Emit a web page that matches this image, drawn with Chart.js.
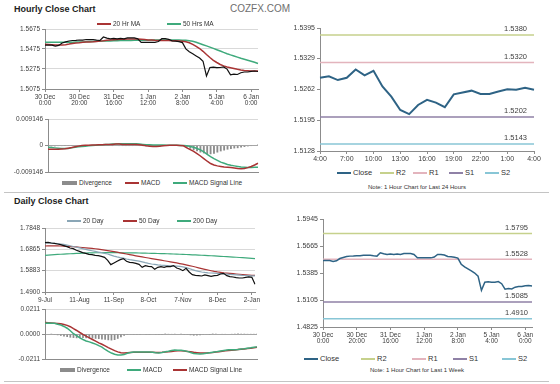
<!DOCTYPE html>
<html lang="en">
<head>
  <meta charset="UTF-8" />
  <title>Hourly / Daily Close Chart</title>
  <script src="https://cdn.jsdelivr.net/npm/chart.js"></script>
  <style>
    body { margin: 0; background: #fff; font-family: "Liberation Sans", Arial, sans-serif; color: #333; }
    #page { position: relative; width: 560px; height: 384px; overflow: hidden; }
    #page canvas, .txt, .sw, .rule { position: absolute; }
    .txt { white-space: nowrap; line-height: 10px; height: 10px; }
    .rule { left: 4px; width: 545px; height: 1px; background: #c4c4c4; }
  </style>
</head>
<body>
<div id="page">
  <div class="txt" style="left:14px; top:4px; font-size:9px; font-weight:bold; color:#222;">Hourly Close Chart</div>
  <div class="txt" style="left:230px; top:4px; font-size:10px; color:#6e6e6e;">COZFX.COM</div>
  <div class="txt" style="left:14px; top:196px; font-size:9px; font-weight:bold; color:#222;">Daily Close Chart</div>
  <div class="txt" style="left:317px; width:200px; text-align:center; top:182px; font-size:6px;">Note: 1 Hour Chart for Last 24 Hours</div>
  <div class="txt" style="left:317px; width:200px; text-align:center; top:365px; font-size:6px;">Note: 1 Hour Chart for Last 1 Week</div>
  <div class="rule" style="top:192px;"></div>
  <div class="rule" style="top:381px;"></div>
</div>

<script>
  // ---- hourly, last week (one point every 2 hours) ----
  const hourTicks = [['30 Dec', '0:00'], ['30 Dec', '20:00'], ['31 Dec', '16:00'], ['1 Jan', '12:00'],
                     ['2 Jan', '8:00'], ['5 Jan', '4:00'], ['6 Jan', '0:00']];
  const hourClose = [1.5514, 1.5514, 1.5514, 1.5504, 1.5511, 1.5535, 1.5546, 1.5555, 1.5560, 1.5562,
                     1.5565, 1.5564, 1.5570, 1.5568, 1.5568, 1.5563, 1.5560, 1.5595, 1.5584, 1.5577,
                     1.5581, 1.5577, 1.5581, 1.5577, 1.5586, 1.5586, 1.5586, 1.5577, 1.5542, 1.5542,
                     1.5542, 1.5542, 1.5542, 1.5550, 1.5578, 1.5578, 1.5572, 1.5556, 1.5553, 1.5549,
                     1.5539, 1.5476, 1.5448, 1.5427, 1.5406, 1.5385, 1.5353, 1.5205, 1.5290, 1.5293,
                     1.5288, 1.5290, 1.5296, 1.5274, 1.5217, 1.5224, 1.5220, 1.5238, 1.5245, 1.5245,
                     1.5252, 1.5255, 1.5250];
  const hourMA20 = [1.5522, 1.5520, 1.5518, 1.5516, 1.5515, 1.5516, 1.5518, 1.5524, 1.5531, 1.5535,
                    1.5538, 1.5542, 1.5544, 1.5546, 1.5548, 1.5551, 1.5555, 1.5558, 1.5562, 1.5565,
                    1.5568, 1.5570, 1.5572, 1.5573, 1.5574, 1.5575, 1.5575, 1.5574, 1.5572, 1.5569,
                    1.5566, 1.5564, 1.5562, 1.5561, 1.5561, 1.5560, 1.5559, 1.5558, 1.5557, 1.5556,
                    1.5552, 1.5547, 1.5538, 1.5522, 1.5502, 1.5480, 1.5452, 1.5420, 1.5390, 1.5362,
                    1.5340, 1.5320, 1.5306, 1.5296, 1.5288, 1.5280, 1.5272, 1.5265, 1.5260, 1.5258,
                    1.5256, 1.5255, 1.5255];
  const hourMA50 = [1.5542, 1.5542, 1.5542, 1.5542, 1.5542, 1.5543, 1.5543, 1.5543, 1.5543, 1.5544,
                    1.5545, 1.5546, 1.5548, 1.5549, 1.5550, 1.5552, 1.5553, 1.5554, 1.5555, 1.5556,
                    1.5557, 1.5558, 1.5559, 1.5560, 1.5561, 1.5561, 1.5562, 1.5562, 1.5562, 1.5563,
                    1.5563, 1.5564, 1.5564, 1.5564, 1.5565, 1.5565, 1.5565, 1.5565, 1.5565, 1.5564,
                    1.5563, 1.5562, 1.5558, 1.5553, 1.5542, 1.5530, 1.5518, 1.5506, 1.5494, 1.5481,
                    1.5468, 1.5455, 1.5441, 1.5428, 1.5416, 1.5405, 1.5394, 1.5382, 1.5372, 1.5362,
                    1.5352, 1.5342, 1.5330];
  const hourMacd = [-0.0013, -0.0013, -0.0013, -0.0013, -0.0012, -0.0011, -0.0009, -0.0007, -0.0004, -0.0002,
                    0.0000, 0.0001, 0.0001, 0.0002, 0.0002, 0.0003, 0.0003, 0.0004, 0.0004, 0.0004,
                    0.0005, 0.0005, 0.0004, 0.0004, 0.0004, 0.0004, 0.0004, 0.0003, 0.0001, -0.0001,
                    -0.0002, -0.0003, -0.0003, -0.0002, -0.0001, 0.0000, 0.0001, 0.0001, 0.0001, 0.0000,
                    -0.0001, -0.0008, -0.0014, -0.0020, -0.0028, -0.0036, -0.0045, -0.0054, -0.0062, -0.0067,
                    -0.0070, -0.0072, -0.0074, -0.0075, -0.0076, -0.0077, -0.0079, -0.0080, -0.0079, -0.0076,
                    -0.0072, -0.0067, -0.0061];
  const hourSignal = [-0.0006, -0.0007, -0.0008, -0.0009, -0.0010, -0.0010, -0.0010, -0.0008, -0.0006, -0.0004,
                      -0.0003, -0.0002, -0.0001, 0.0000, 0.0001, 0.0002, 0.0003, 0.0004, 0.0004, 0.0005,
                      0.0005, 0.0006, 0.0006, 0.0006, 0.0006, 0.0006, 0.0006, 0.0005, 0.0004, 0.0003,
                      0.0003, 0.0002, 0.0002, 0.0002, 0.0002, 0.0001, 0.0001, 0.0001, 0.0001, 0.0000,
                      0.0000, -0.0001, -0.0003, -0.0006, -0.0010, -0.0015, -0.0022, -0.0030, -0.0038, -0.0045,
                      -0.0051, -0.0057, -0.0061, -0.0065, -0.0068, -0.0070, -0.0072, -0.0074, -0.0075, -0.0076,
                      -0.0076, -0.0075, -0.0075];
  const hourDiverg = [-0.0003, -0.0003, -0.0003, -0.0002, -0.0002, -0.0001, 0.0001, 0.0001, 0.0002, 0.0002,
                      0.0002, 0.0002, 0.0002, 0.0002, 0.0001, 0.0001, 0.0000, 0.0000, 0.0000, -0.0001,
                      0.0000, -0.0001, -0.0001, -0.0001, -0.0001, -0.0001, -0.0001, -0.0001, -0.0002, -0.0003,
                      -0.0004, -0.0004, -0.0004, -0.0003, -0.0002, -0.0001, 0.0000, 0.0000, 0.0000, 0.0000,
                      -0.0001, -0.0007, -0.0011, -0.0016, -0.0020, -0.0024, -0.0027, -0.0029, -0.0030, -0.0028,
                      -0.0024, -0.0020, -0.0017, -0.0014, -0.0012, -0.0010, -0.0009, -0.0007, -0.0005, -0.0003,
                      -0.0001, 0.0002, 0.0004];

  // ---- hourly, last 24 hours ----
  const lastDayHours = ['4:00', '5:00', '6:00', '7:00', '8:00', '9:00', '10:00', '11:00', '12:00', '13:00',
                        '14:00', '15:00', '16:00', '17:00', '18:00', '19:00', '20:00', '21:00', '22:00', '23:00',
                        '0:00', '1:00', '2:00', '3:00', '4:00'];
  const lastDayClose = [1.5287, 1.5290, 1.5282, 1.5287, 1.5305, 1.5292, 1.5302, 1.5268, 1.5246, 1.5217,
                        1.5208, 1.5228, 1.5239, 1.5233, 1.5223, 1.5251, 1.5255, 1.5259, 1.5252, 1.5252,
                        1.5257, 1.5262, 1.5261, 1.5265, 1.5261];
  const levelNames = ['R2', 'R1', 'S1', 'S2'];
  const lastDayLevels = [1.5380, 1.5320, 1.5202, 1.5143];
  const weekLevels = [1.5795, 1.5528, 1.5085, 1.4910];

  // ---- daily (one point every 2 trading days) ----
  const dayTicks = ['9-Jul', '11-Aug', '11-Sep', '8-Oct', '7-Nov', '8-Dec', '2-Jan'];
  const dayClose = [1.7173, 1.7188, 1.7157, 1.7142, 1.7111, 1.7081, 1.7034, 1.6988, 1.6927, 1.6896,
                    1.6820, 1.6773, 1.6712, 1.6681, 1.6635, 1.6620, 1.6589, 1.6574, 1.6543, 1.6497,
                    1.6359, 1.6160, 1.6236, 1.6313, 1.6390, 1.6436, 1.6313, 1.6267, 1.6252, 1.6221,
                    1.6175, 1.6037, 1.6114, 1.6083, 1.6067, 1.5945, 1.6037, 1.6067, 1.6037, 1.6083,
                    1.6067, 1.6114, 1.6006, 1.5960, 1.5883, 1.5991, 1.5822, 1.5699, 1.5668, 1.5653,
                    1.5637, 1.5684, 1.5653, 1.5622, 1.5653, 1.5668, 1.5730, 1.5760, 1.5653, 1.5607,
                    1.5592, 1.5561, 1.5546, 1.5546, 1.5576, 1.5592, 1.5576, 1.5254];
  const dayMA20 = [1.7173, 1.7160, 1.7150, 1.7140, 1.7125, 1.7110, 1.7090, 1.7060, 1.7030, 1.6995,
                   1.6965, 1.6930, 1.6895, 1.6860, 1.6830, 1.6800, 1.6770, 1.6740, 1.6710, 1.6680,
                   1.6650, 1.6600, 1.6550, 1.6515, 1.6485, 1.6460, 1.6420, 1.6390, 1.6370, 1.6345,
                   1.6320, 1.6290, 1.6250, 1.6215, 1.6190, 1.6170, 1.6150, 1.6135, 1.6125, 1.6115,
                   1.6110, 1.6105, 1.6095, 1.6080, 1.6060, 1.6020, 1.5980, 1.5930, 1.5885, 1.5850,
                   1.5820, 1.5800, 1.5785, 1.5775, 1.5765, 1.5755, 1.5745, 1.5735, 1.5725, 1.5712,
                   1.5700, 1.5690, 1.5680, 1.5668, 1.5660, 1.5652, 1.5645, 1.5640];
  const dayMA50 = [1.7019, 1.7022, 1.7025, 1.7025, 1.7022, 1.7018, 1.7012, 1.7005, 1.6995, 1.6985,
                   1.6975, 1.6962, 1.6950, 1.6937, 1.6925, 1.6910, 1.6893, 1.6875, 1.6855, 1.6833,
                   1.6810, 1.6785, 1.6760, 1.6733, 1.6705, 1.6678, 1.6650, 1.6622, 1.6595, 1.6568,
                   1.6540, 1.6515, 1.6490, 1.6465, 1.6440, 1.6415, 1.6390, 1.6365, 1.6340, 1.6315,
                   1.6290, 1.6265, 1.6240, 1.6210, 1.6180, 1.6150, 1.6118, 1.6085, 1.6050, 1.6015,
                   1.5980, 1.5945, 1.5912, 1.5880, 1.5850, 1.5825, 1.5805, 1.5785, 1.5770, 1.5755,
                   1.5742, 1.5730, 1.5718, 1.5705, 1.5692, 1.5680, 1.5670, 1.5662];
  const dayMA200 = [1.6589, 1.6600, 1.6610, 1.6620, 1.6630, 1.6638, 1.6646, 1.6654, 1.6662, 1.6670,
                    1.6677, 1.6683, 1.6689, 1.6695, 1.6700, 1.6704, 1.6707, 1.6709, 1.6711, 1.6712,
                    1.6712, 1.6712, 1.6711, 1.6710, 1.6709, 1.6708, 1.6706, 1.6704, 1.6702, 1.6699,
                    1.6696, 1.6693, 1.6690, 1.6686, 1.6682, 1.6678, 1.6674, 1.6670, 1.6666, 1.6661,
                    1.6656, 1.6651, 1.6646, 1.6640, 1.6634, 1.6628, 1.6621, 1.6614, 1.6607, 1.6600,
                    1.6593, 1.6585, 1.6577, 1.6569, 1.6561, 1.6553, 1.6545, 1.6536, 1.6527, 1.6518,
                    1.6509, 1.6500, 1.6490, 1.6480, 1.6470, 1.6460, 1.6450, 1.6440];
  const dayMacd = [0.0092, 0.0093, 0.0092, 0.0090, 0.0083, 0.0076, 0.0064, 0.0049, 0.0028, 0.0003,
                   -0.0014, -0.0032, -0.0046, -0.0058, -0.0066, -0.0075, -0.0085, -0.0098, -0.0110, -0.0130,
                   -0.0146, -0.0160, -0.0170, -0.0177, -0.0177, -0.0173, -0.0162, -0.0155, -0.0152, -0.0151,
                   -0.0151, -0.0152, -0.0151, -0.0151, -0.0153, -0.0157, -0.0159, -0.0156, -0.0150, -0.0145,
                   -0.0139, -0.0135, -0.0136, -0.0137, -0.0141, -0.0146, -0.0155, -0.0163, -0.0166, -0.0168,
                   -0.0166, -0.0162, -0.0158, -0.0154, -0.0150, -0.0144, -0.0140, -0.0136, -0.0133, -0.0133,
                   -0.0133, -0.0130, -0.0126, -0.0123, -0.0119, -0.0116, -0.0112, -0.0108];
  const daySignal = [0.0097, 0.0095, 0.0093, 0.0091, 0.0089, 0.0086, 0.0080, 0.0073, 0.0062, 0.0045,
                     0.0030, 0.0013, -0.0003, -0.0018, -0.0032, -0.0046, -0.0060, -0.0074, -0.0086, -0.0100,
                     -0.0114, -0.0127, -0.0140, -0.0150, -0.0157, -0.0159, -0.0157, -0.0155, -0.0154, -0.0154,
                     -0.0154, -0.0154, -0.0154, -0.0154, -0.0154, -0.0155, -0.0155, -0.0154, -0.0152, -0.0149,
                     -0.0146, -0.0143, -0.0141, -0.0141, -0.0143, -0.0146, -0.0150, -0.0154, -0.0157, -0.0160,
                     -0.0160, -0.0159, -0.0157, -0.0155, -0.0152, -0.0149, -0.0145, -0.0141, -0.0138, -0.0136,
                     -0.0134, -0.0131, -0.0128, -0.0125, -0.0122, -0.0119, -0.0115, -0.0111];
  const dayDiverg = [0.0005, 0.0004, 0.0002, -0.0002, -0.0010, -0.0015, -0.0020, -0.0025, -0.0030, -0.0033,
                     -0.0035, -0.0034, -0.0033, -0.0035, -0.0036, -0.0038, -0.0040, -0.0042, -0.0045, -0.0048,
                     -0.0052, -0.0054, -0.0050, -0.0040, -0.0028, -0.0015, -0.0007, -0.0003, -0.0002, -0.0002,
                     -0.0002, -0.0003, -0.0002, -0.0002, -0.0004, -0.0006, -0.0005, -0.0002, 0.0001, 0.0003,
                     0.0005, 0.0006, 0.0004, 0.0002, -0.0002, -0.0006, -0.0010, -0.0013, -0.0012, -0.0010,
                     -0.0006, -0.0003, -0.0001, 0.0001, 0.0002, 0.0004, 0.0005, 0.0005, 0.0004, 0.0003,
                     0.0002, 0.0001, 0.0002, 0.0002, 0.0003, 0.0003, 0.0003, 0.0003];

  // ---- y tick values ----
  const yTicksHour = [1.5075, 1.5275, 1.5475, 1.5675];
  const yTicksHourMacd = [-0.009146, 0, 0.009146];
  const yTicksLastDay = [1.5128, 1.5195, 1.5262, 1.5329, 1.5395];
  const yTicksDay = [1.4900, 1.5883, 1.6865, 1.7848];
  const yTicksDayMacd = [-0.0211, 0, 0.0211];
  const yTicksWeek = [1.4825, 1.5105, 1.5385, 1.5665, 1.5945];

  // ---- colours ----
  const C_BLACK = '#111111', C_RED = '#a93434', C_GREEN = '#3faa7c', C_GREYBLUE = '#8aa6b6';
  const C_BAR = '#8c8c8c', C_BLUE = '#2e6385';
  const levelColors = ['#c6d18c', '#e3b4bd', '#8f81a6', '#88c6d6'];
  const AXIS = '#8c8c8c', GRID = '#d9d9d9', TXT = '#404040', NONE = 'rgba(0,0,0,0)';

  Chart.defaults.font.family = '"Liberation Sans", Arial, sans-serif';

  const page = document.getElementById('page');
  const spread = (n, step, ticks) => Array.from({ length: n }, (_, i) => (i % step === 0 ? ticks[i / step] : ''));
  const hourLabels = spread(hourClose.length, 10, hourTicks);
  const dayLabels = spread(dayClose.length, 11, dayTicks);
  const zeroGrid = c => (c.tick && c.tick.value === 0 ? '#a6a6a6' : GRID);

  function makeCanvas(left, top, w, h) {
    const c = document.createElement('canvas');
    c.width = w; c.height = h;
    c.style.left = left + 'px'; c.style.top = top + 'px';
    page.appendChild(c);
    return c;
  }

  function legend(y, size, items) {
    items.forEach(([x, text, color, kind]) => {
      const h = kind === 'box' ? 4 : kind === 'thick' ? 2.5 : 1.5;
      const w = kind === 'box' ? 15 : 14;
      const sw = document.createElement('div');
      sw.className = 'sw';
      sw.style.cssText = `left:${x}px;top:${y - h / 2}px;width:${w}px;height:${h}px;background:${color}`;
      page.appendChild(sw);
      const t = document.createElement('div');
      t.className = 'txt';
      t.style.cssText = `left:${x + w + 2}px;top:${y - 5}px;font-size:${size}px`;
      t.textContent = text;
      page.appendChild(t);
    });
  }

  const line = (label, data, color, width) => ({
    type: 'line', label, data, borderColor: color, backgroundColor: color,
    borderWidth: width, pointRadius: 0, tension: 0, fill: false
  });
  const bars = (label, data) => ({
    type: 'bar', label, data, backgroundColor: C_BAR, borderWidth: 0,
    barPercentage: 0.55, categoryPercentage: 1
  });
  const levelLine = (k, levels, n) => ({
    type: 'line', label: levelNames[k], level: levels[k], data: Array(n).fill(levels[k]),
    borderColor: levelColors[k], borderWidth: 1.5, pointRadius: 0, fill: false
  });

  // writes the R/S level above its line, at the right end
  const levelLabels = {
    id: 'levelLabels',
    afterDatasetsDraw(chart, args, opts) {
      const { ctx, chartArea, scales } = chart;
      ctx.save();
      ctx.font = '7.5px "Liberation Sans", Arial, sans-serif';
      ctx.fillStyle = TXT;
      ctx.textAlign = 'right';
      ctx.textBaseline = 'bottom';
      chart.data.datasets.forEach(ds => {
        if (ds.level === undefined) return;
        ctx.fillText(ds.level.toFixed(4), chartArea.right - opts.inset, scales.y.getPixelForValue(ds.level) - 2);
      });
      ctx.restore();
    }
  };

  function options(o) {
    return {
      responsive: false,
      animation: false,
      layout: { padding: { left: 0, right: o.padR, top: o.padT, bottom: 0 } },
      plugins: { legend: { display: false }, tooltip: { enabled: false }, levelLabels: { inset: o.inset || 6 } },
      scales: {
        x: {
          offset: false,
          border: { color: AXIS },
          grid: {
            drawOnChartArea: false,
            drawTicks: o.every > 0,
            tickLength: 3,
            tickColor: c => (o.every > 0 && c.index % o.every === 0 ? AXIS : NONE)
          },
          ticks: {
            display: o.every > 0, autoSkip: false, maxRotation: 0, padding: 2,
            color: TXT, font: { size: o.xfs || o.fs, lineHeight: 0.9 },
            callback: function (v, i) { return i % o.every === 0 ? this.getLabelForValue(v) : ''; }
          },
          afterFit: s => { s.height = o.xH; }
        },
        y: {
          min: o.yt[0],
          max: o.yt[o.yt.length - 1],
          afterBuildTicks: s => { s.ticks = o.yt.map(v => ({ value: v })); },
          afterFit: s => { s.width = o.yW; },
          border: { color: AXIS },
          grid: { color: o.grid, tickColor: AXIS, tickLength: 3 },
          ticks: { padding: 2, color: TXT, font: { size: o.fs }, callback: o.fmt }
        }
      }
    };
  }

  const fix4 = v => v.toFixed(4);

  // hourly close with moving averages
  new Chart(makeCanvas(0, 22, 268, 90), {
    type: 'line',
    data: {
      labels: hourLabels,
      datasets: [line('Close', hourClose, C_BLACK, 1.2), line('20 Hr MA', hourMA20, C_RED, 1.5),
                 line('50 Hrs MA', hourMA50, C_GREEN, 1.5)]
    },
    options: options({ padR: 10, padT: 7, every: 10, xH: 23, yW: 45, yt: yTicksHour, fs: 6.5, fmt: fix4, grid: GRID })
  });
  legend(24, 6.5, [[97, '20 Hr MA', C_RED, 'line'], [167, '50 Hrs MA', C_GREEN, 'line']]);

  // hourly MACD
  new Chart(makeCanvas(0, 112, 268, 66), {
    type: 'line',
    data: {
      labels: hourLabels,
      datasets: [line('MACD', hourMacd, C_RED, 1.5), line('MACD Signal Line', hourSignal, C_GREEN, 1.5),
                 bars('Divergence', hourDiverg)]
    },
    options: options({ padR: 10, padT: 7, every: 0, xH: 4, yW: 48, yt: yTicksHourMacd, fs: 6.5, fmt: v => String(v), grid: zeroGrid })
  });
  legend(183, 6.5, [[62, 'Divergence', C_BAR, 'box'], [125, 'MACD', C_RED, 'line'], [173, 'MACD Signal Line', C_GREEN, 'line']]);

  // last 24 hours with levels
  new Chart(makeCanvas(280, 20, 280, 146), {
    type: 'line',
    data: {
      labels: lastDayHours,
      datasets: [line('Close', lastDayClose, C_BLUE, 2)]
        .concat(levelNames.map((n, k) => levelLine(k, lastDayLevels, lastDayClose.length)))
    },
    options: options({ padR: 26, padT: 8, every: 3, xH: 15, yW: 40, yt: yTicksLastDay, fs: 7, fmt: fix4, grid: NONE, inset: 7 }),
    plugins: [levelLabels]
  });
  legend(173, 7.5, [[337, 'Close', C_BLUE, 'thick'], [380, 'R2', levelColors[0], 'line'], [413, 'R1', levelColors[1], 'line'],
                    [449, 'S1', levelColors[2], 'line'], [485, 'S2', levelColors[3], 'line']]);

  // daily close with moving averages
  new Chart(makeCanvas(0, 220, 268, 88), {
    type: 'line',
    data: {
      labels: dayLabels,
      datasets: [line('Close', dayClose, C_BLACK, 1.2), line('20 Day', dayMA20, C_GREYBLUE, 1.2),
                 line('50 Day', dayMA50, C_RED, 1.2), line('200 Day', dayMA200, C_GREEN, 1.2)]
    },
    options: options({ padR: 13, padT: 8, every: 11, xH: 16, yW: 45, yt: yTicksDay, fs: 6.5, fmt: fix4, grid: GRID })
  });
  legend(221, 6.5, [[67, '20 Day', C_GREYBLUE, 'line'], [123, '50 Day', C_RED, 'line'], [177, '200 Day', C_GREEN, 'line']]);

  // daily MACD
  new Chart(makeCanvas(0, 303, 268, 62), {
    type: 'line',
    data: {
      labels: dayLabels,
      datasets: [line('MACD', dayMacd, C_GREEN, 1.5), line('MACD Signal Line', daySignal, C_RED, 1.5),
                 bars('Divergence', dayDiverg)]
    },
    options: options({ padR: 11, padT: 6, every: 0, xH: 4, yW: 45, yt: yTicksDayMacd, fs: 6.5, fmt: fix4, grid: zeroGrid })
  });
  legend(370, 6.5, [[60, 'Divergence', C_BAR, 'box'], [127, 'MACD', C_GREEN, 'line'], [173, 'MACD Signal Line', C_RED, 'line']]);

  // last week with levels
  new Chart(makeCanvas(280, 211, 280, 140), {
    type: 'line',
    data: {
      labels: hourLabels,
      datasets: [line('Close', hourClose, C_BLUE, 1.5)]
        .concat(levelNames.map((n, k) => levelLine(k, weekLevels, hourClose.length)))
    },
    options: options({ padR: 28, padT: 8, every: 10, xH: 24, yW: 43, yt: yTicksWeek, fs: 7, xfs: 6.5, fmt: fix4, grid: NONE, inset: 4 }),
    plugins: [levelLabels]
  });
  legend(359, 7.5, [[304, 'Close', C_BLUE, 'thick'], [361, 'R2', levelColors[0], 'line'], [412, 'R1', levelColors[1], 'line'],
                    [453, 'S1', levelColors[2], 'line'], [502, 'S2', levelColors[3], 'line']]);
</script>
</body>
</html>
